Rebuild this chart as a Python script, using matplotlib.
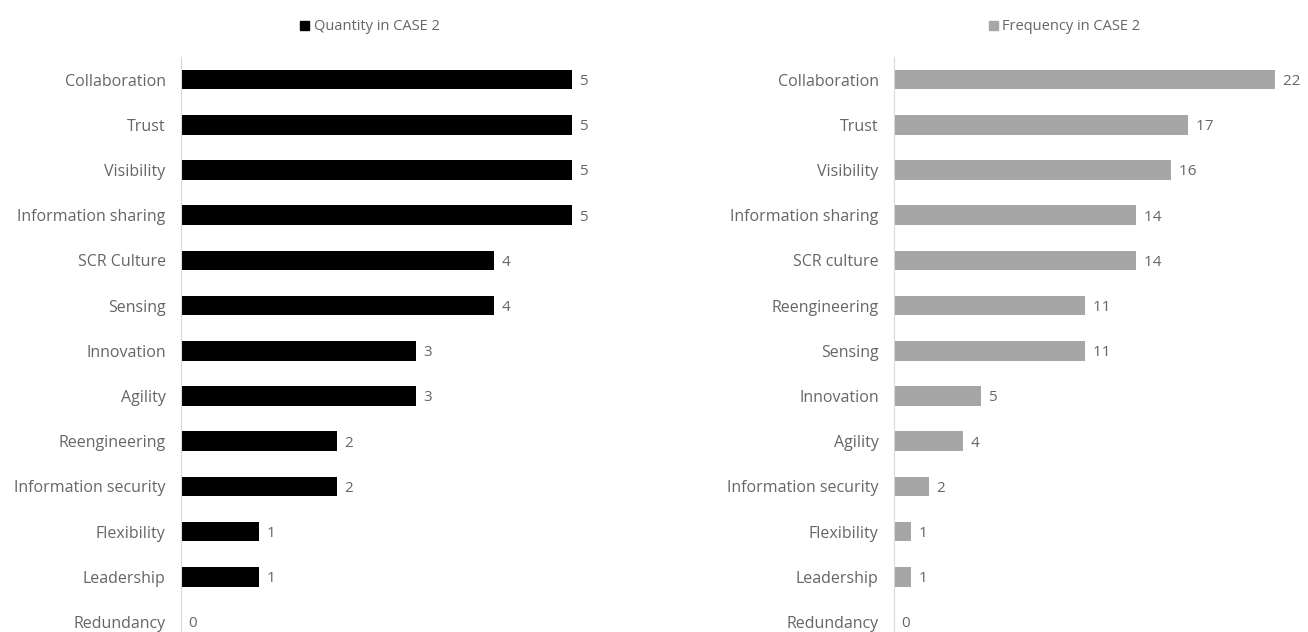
import matplotlib
matplotlib.use("Agg")
import matplotlib.pyplot as plt
from matplotlib.patches import Patch

plt.rcParams["font.family"] = ["Open Sans", "DejaVu Sans"]

TEXT_GREY = "#666666"

# left panel: number of cases mentioning each element
qty_labels = ["Collaboration", "Trust", "Visibility", "Information sharing", "SCR Culture",
              "Sensing", "Innovation", "Agility", "Reengineering", "Information security",
              "Flexibility", "Leadership", "Redundancy"]
qty_values = [5, 5, 5, 5, 4, 4, 3, 3, 2, 2, 1, 1, 0]

# right panel: how often each element came up
freq_labels = ["Collaboration", "Trust", "Visibility", "Information sharing", "SCR culture",
               "Reengineering", "Sensing", "Innovation", "Agility", "Information security",
               "Flexibility", "Leadership", "Redundancy"]
freq_values = [22, 17, 16, 14, 14, 11, 11, 5, 4, 2, 1, 1, 0]

W, H = 1308, 632
fig = plt.figure(figsize=(W / 100, H / 100), dpi=100)

top_px = 57
ax_h = (H - top_px) / H
ymax = 12 + (H - 622) / 45.17


def panel(left_px, width_px, xmax, labels, values, color, title, legend_x):
    ax = fig.add_axes([left_px / W, 0, width_px / W, ax_h])
    pos = list(range(len(labels)))
    ax.barh(pos, values, height=0.43, color=color)
    for p, v in zip(pos, values):
        ax.text(v, p, f"  {v}", va="center_baseline", ha="left", fontsize=11, color=TEXT_GREY)
    ax.set_yticks(pos)
    ax.set_yticklabels(labels, fontsize=11.5, color=TEXT_GREY, va="center_baseline")
    ax.tick_params(axis="y", length=0, pad=11)
    ax.set_xticks([])
    ax.set_xlim(0, xmax)
    ax.set_ylim(ymax, -0.5)
    for s in ["top", "right", "bottom"]:
        ax.spines[s].set_visible(False)
    ax.spines["left"].set_color("#d9d9d9")
    ax.spines["left"].set_linewidth(0.8)
    fig.legend(handles=[Patch(color=color, label=title)], loc="center",
               bbox_to_anchor=(legend_x / W, 1 - 27 / H), frameon=False,
               fontsize=10.5, labelcolor=TEXT_GREY, handlelength=0.6, handleheight=0.6,
               handletextpad=0.3)
    return ax


panel(181, 469, 6.0, qty_labels, qty_values, "black", "Quantity in CASE 2", 370)
panel(894, 407, 23.5, freq_labels, freq_values, "#a6a6a6", "Frequency in CASE 2", 1065)

fig.savefig("out.png", dpi=100)
